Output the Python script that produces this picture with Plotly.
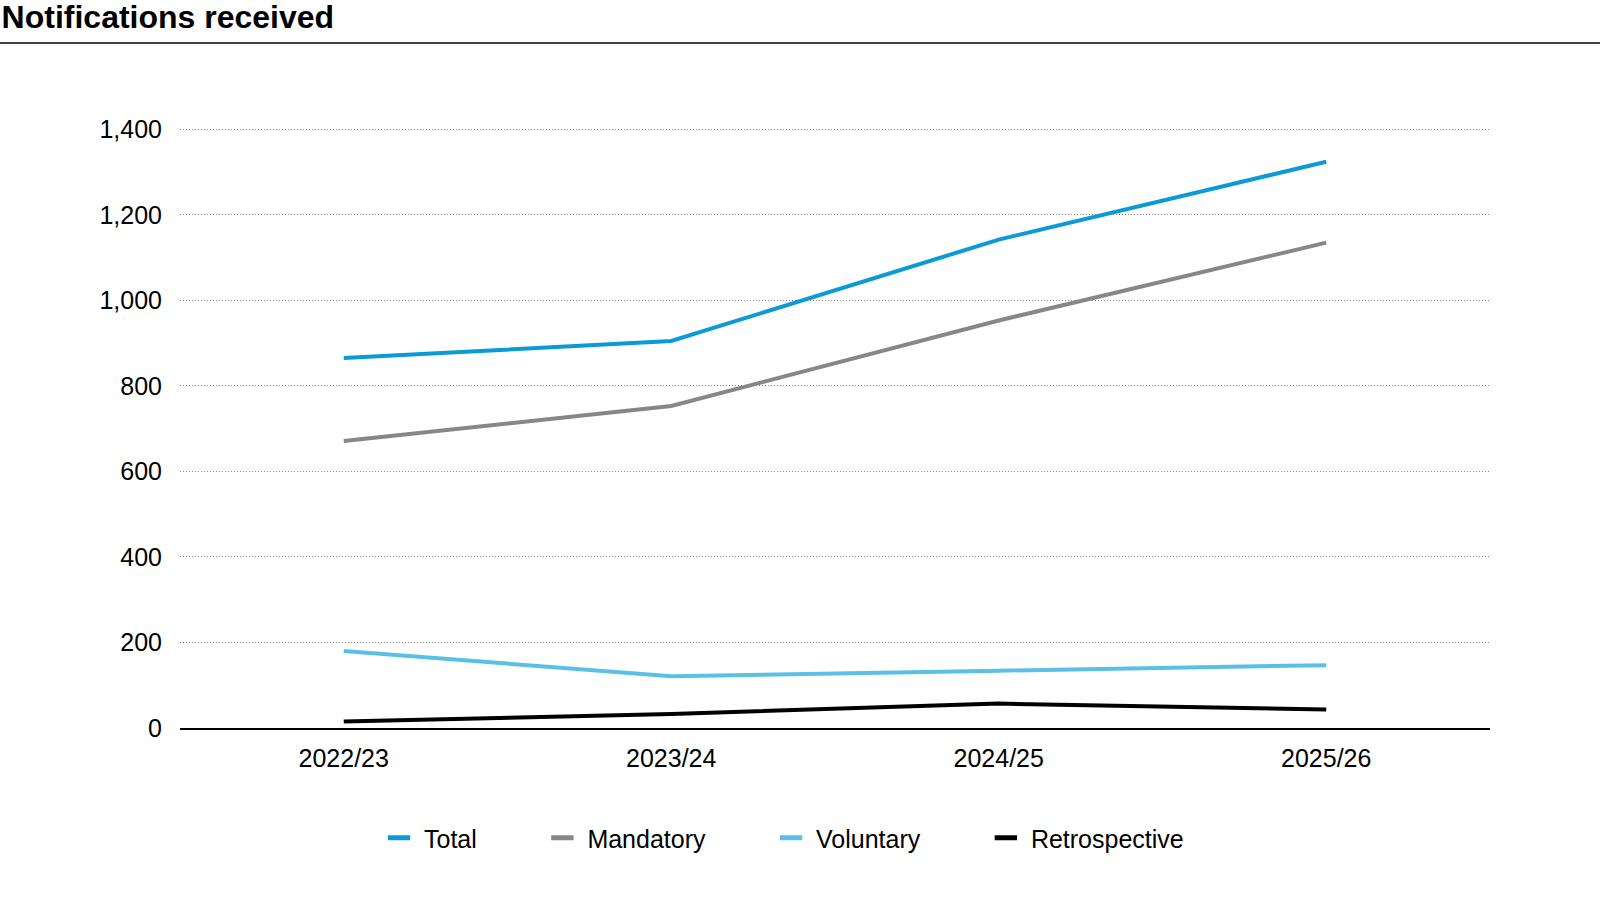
import plotly.graph_objects as go

categories = ["2022/23", "2023/24", "2024/25", "2025/26"]
total = [865, 905, 1142, 1324]
mandatory = [671, 753, 953, 1135]
voluntary = [180, 121, 134, 147]
retrospective = [15, 33, 57, 43]

series_names = ["Total", "Mandatory", "Voluntary", "Retrospective"]
series_values = [total, mandatory, voluntary, retrospective]
series_colors = ["#0A9AD6", "#878787", "#5BC0E6", "#000000"]

W, H = 1600, 900
ML, MR, MT, MB = 180, 110, 128, 172
PW = W - ML - MR
PH = H - MT - MB

FONT = "Liberation Sans, Arial, sans-serif"

fig = go.Figure()
for name, vals, col in zip(series_names, series_values, series_colors):
    fig.add_trace(go.Scatter(
        x=categories, y=vals, mode="lines", name=name,
        line=dict(color=col, width=4), showlegend=False, hoverinfo="x+y+name"))

pad = "\u00a0" * 8
for i, (name, col) in enumerate(zip(series_names, series_colors)):
    label = name + (pad if i < len(series_names) - 1 else "")
    fig.add_trace(go.Scatter(
        x=[None], y=[None], mode="markers", name=label,
        marker=dict(symbol="line-ew-open", size=16, color=col,
                    line=dict(color=col, width=5)),
        showlegend=True))

fig.update_layout(
    width=W, height=H,
    margin=dict(l=ML, r=MR, t=MT, b=MB),
    paper_bgcolor="white", plot_bgcolor="white",
    font=dict(family=FONT, size=25, color="#000000"),
    title=dict(text="<b>Notifications received</b>", x=0.001, xref="container",
               xanchor="left", y=1 - 17 / H, yref="container", yanchor="middle",
               font=dict(family=FONT, size=32, color="#000000")),
    xaxis=dict(range=[-0.5, 3.5], showgrid=False, showline=True, linecolor="#000000",
               linewidth=1.5, ticks="", tickfont=dict(size=25), ticklabelstandoff=7,
               fixedrange=True),
    yaxis=dict(range=[0, 1403], tickvals=[0, 200, 400, 600, 800, 1000, 1200, 1400],
               ticktext=["0", "200", "400", "600", "800", "1,000", "1,200", "1,400"],
               showgrid=True, gridcolor="#8a8a8a", griddash="1px,2px", gridwidth=1,
               zeroline=False, showline=False, ticks="", ticklabelstandoff=17,
               tickfont=dict(size=25), fixedrange=True),
    legend=dict(orientation="h", x=(374 - ML) / PW, xanchor="left",
                y=-(838 - (H - MB)) / PH, yanchor="middle",
                font=dict(size=25), itemwidth=40, bgcolor="rgba(0,0,0,0)"),
    shapes=[dict(type="line", xref="paper", yref="paper",
                 x0=-ML / PW, x1=(W - ML) / PW,
                 y0=(H - MB - 43) / PH, y1=(H - MB - 43) / PH,
                 line=dict(color="#000000", width=1.5))],
)

fig.write_html("out.html")
